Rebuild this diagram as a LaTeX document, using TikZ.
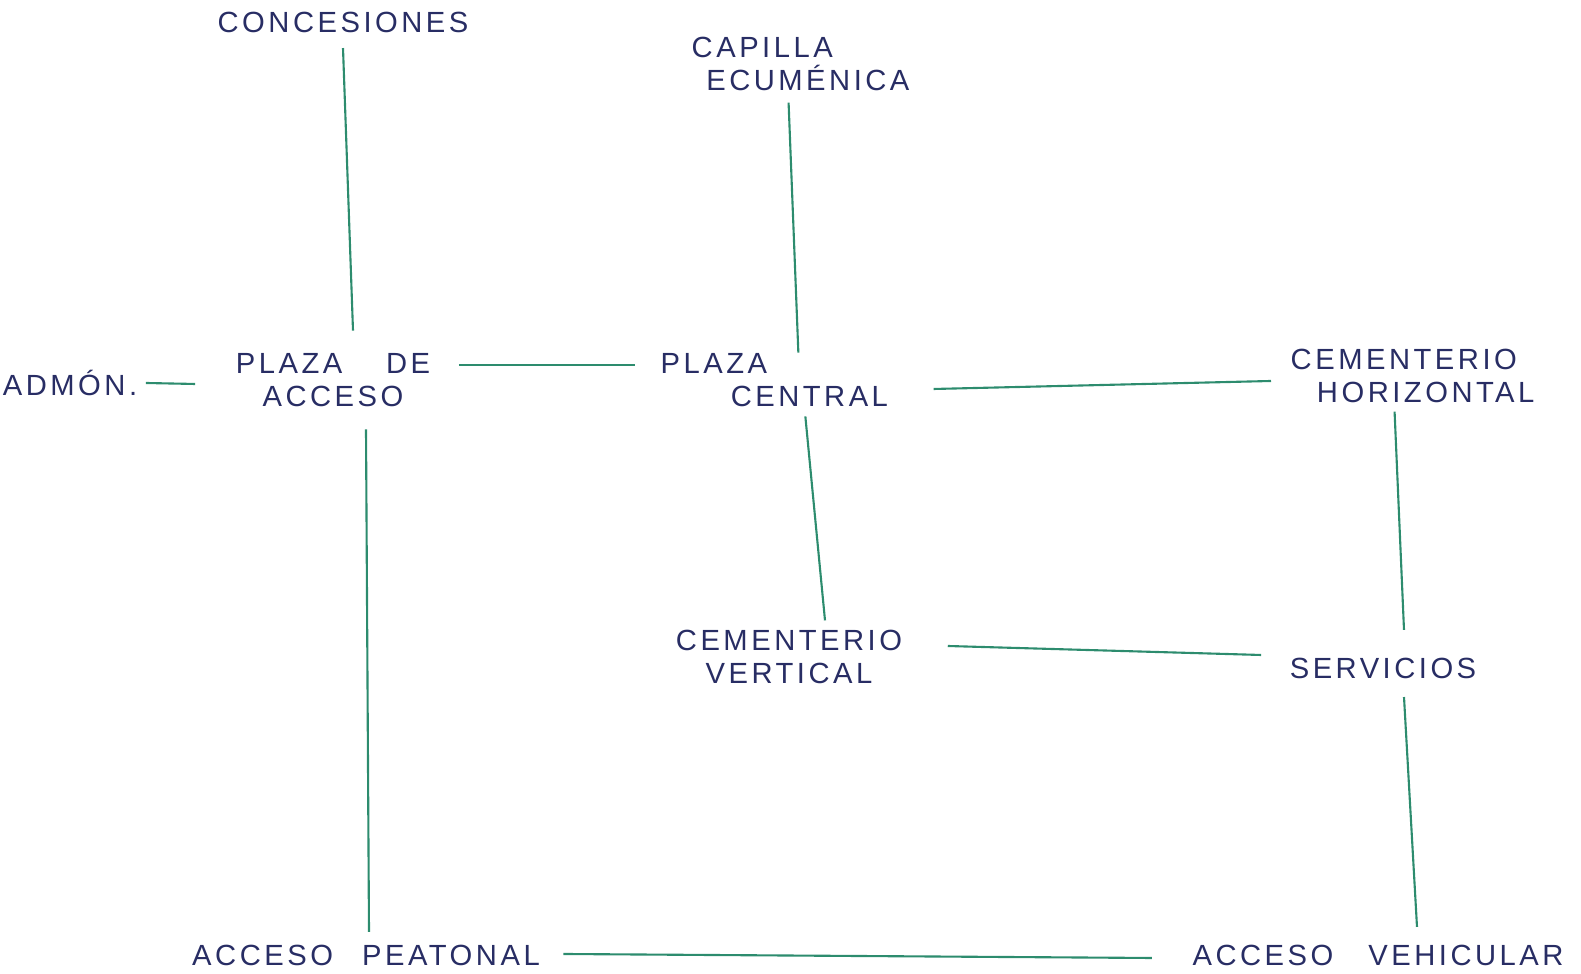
\documentclass[tikz,border=0pt]{standalone}
\usepackage{fontspec}
\usepackage{xcolor}
\usepackage{tikz}
\usetikzlibrary{calc}
\setmainfont{Liberation Sans}[LetterSpace=12]
\definecolor{inkblue}{RGB}{40, 45, 100}
\definecolor{linegreen}{RGB}{45, 140, 110}

\begin{document}
\begin{tikzpicture}[x=0.01cm, y=-0.01cm,
    lbl/.style={text=inkblue, inner sep=0pt, font=\fontsize{8.3}{9.4}\selectfont},
    link/.style={linegreen, line width=0.6pt}]
    \useasboundingbox (0,0) rectangle (1581,974);

    % Labels
    \node[lbl] (conc) at (343,22) {CONCESIONES};
    \node[lbl, align=left, anchor=west] (capilla) at (691,64) {CAPILLA\\\hspace*{0.5em}ECUMÉNICA};
    \node[lbl] (admon) at (70,383) {ADMÓN.};
    \node[lbl, align=center] (pacc) at (333,380) {PLAZA\hspace*{1.5em}DE\\ACCESO};
    \node[lbl, align=left, anchor=west] (pcen) at (660,380) {PLAZA\\\hspace*{2.4em}CENTRAL};
    \node[lbl, align=left, anchor=west] (cemh) at (1290,376) {CEMENTERIO\\\hspace*{0.9em}HORIZONTAL};
    \node[lbl, align=center] (cemv) at (789,657) {CEMENTERIO\\VERTICAL};
    \node[lbl] (serv) at (1383,668) {SERVICIOS};
    \node[lbl] (accp) at (366,955) {ACCESO\quad PEATONAL};
    \node[lbl] (accv) at (1378,955) {ACCESO\hspace*{1.2em}VEHICULAR};

    % Connections
    \draw[link] ($(conc.south)+(0,15)$) -- ($(pacc.north)+(20,-22)$);
    \draw[link] ($(admon.east)+(8,0)$) -- ($(pacc.west)+(-40,4)$);
    \draw[link] ($(pacc.east)+(28,-15)$) -- ($(pcen.west)+(-25,-15)$);
    \draw[link] ($(capilla.south)+(-12,11)$) -- ($(pcen.north)+(24,0)$);
    \draw[link] ($(pcen.east)+(45,9)$) -- ($(cemh.west)+(-19,5)$);
    \draw[link] ($(pcen.south)+(31,9)$) -- ($(cemv.north)+(36,-9)$);
    \draw[link] ($(cemv.east)+(45,-11)$) -- ($(serv.west)+(-28,-13)$);
    \draw[link] ($(cemh.south)+(-18,8)$) -- ($(serv.north)+(21,-27)$);
    \draw[link] ($(serv.south)+(21,18)$) -- ($(accv.north)+(39,-17)$);
    \draw[link] ($(pacc.south)+(33,22)$) -- ($(accp.north)+(3,-12)$);
    \draw[link] ($(accp.east)+(23,-1)$) -- ($(accv.west)+(-40,3)$);
\end{tikzpicture}
\end{document}
